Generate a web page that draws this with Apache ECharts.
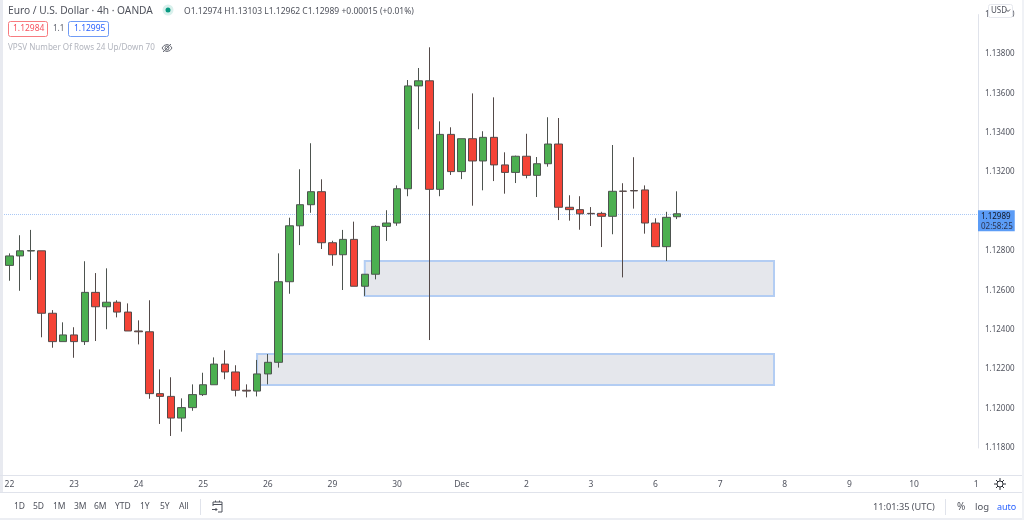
<!DOCTYPE html>
<html>
<head>
<meta charset="utf-8">
<title>Euro / U.S. Dollar 4h</title>
<style>
  html, body { margin: 0; padding: 0; background: #fff; }
  #main { width: 1024px; height: 520px; }
</style>
</head>
<body>
<div id="main"></div>
<script src="https://cdn.jsdelivr.net/npm/echarts@6/dist/echarts.min.js"></script>
<script>
var dayLabels = ["22", "23", "24", "25", "26", "29", "30", "Dec", "2", "3", "6", "7", "8", "9", "10", "11"];

var opens = [
  1.12727, 1.12775, 1.12800, 1.12801, 1.12484, 1.12340, 1.12374, 1.12340, 1.12590, 1.12517,
  1.12540, 1.12490, 1.12394, 1.12390, 1.12076, 1.12062, 1.11952, 1.12005, 1.12071, 1.12121,
  1.12226, 1.12186, 1.12093, 1.12089, 1.12176, 1.12235, 1.12644, 1.12928, 1.13035, 1.13101,
  1.12842, 1.12781, 1.12859, 1.12621, 1.12682, 1.12925, 1.12942, 1.13116, 1.13638, 1.13664,
  1.13113, 1.13392, 1.13203, 1.13370, 1.13257, 1.13377, 1.13237, 1.13199, 1.13281, 1.13184,
  1.13243, 1.13343, 1.13022, 1.13010, 1.12991, 1.12991, 1.12976, 1.13104, 1.13107, 1.13110,
  1.12942, 1.12822, 1.12974
];
var closes = [
  1.12775, 1.12801, 1.12802, 1.12484, 1.12340, 1.12374, 1.12340, 1.12590, 1.12517, 1.12540,
  1.12490, 1.12394, 1.12390, 1.12076, 1.12062, 1.11952, 1.12005, 1.12071, 1.12121, 1.12226,
  1.12186, 1.12093, 1.12089, 1.12176, 1.12235, 1.12644, 1.12928, 1.13035, 1.13101, 1.12842,
  1.12781, 1.12859, 1.12621, 1.12682, 1.12925, 1.12942, 1.13116, 1.13638, 1.13664, 1.13113,
  1.13392, 1.13203, 1.13370, 1.13257, 1.13377, 1.13237, 1.13199, 1.13281, 1.13184, 1.13243,
  1.13343, 1.13022, 1.13010, 1.12989, 1.12989, 1.12976, 1.13103, 1.13103, 1.13105, 1.12942,
  1.12822, 1.12971, 1.12989
];
var lows = [
  1.12649, 1.12598, 1.12653, 1.12362, 1.12309, 1.12340, 1.12258, 1.12323, 1.12343, 1.12403,
  1.12463, 1.12394, 1.12326, 1.12050, 1.11922, 1.11861, 1.11883, 1.11989, 1.12064, 1.12121,
  1.12149, 1.12062, 1.12057, 1.12062, 1.12123, 1.12208, 1.12583, 1.12830, 1.12994, 1.12810,
  1.12725, 1.12602, 1.12621, 1.12572, 1.12656, 1.12851, 1.12928, 1.13078, 1.13418, 1.12348,
  1.13078, 1.13186, 1.13165, 1.13030, 1.13108, 1.13155, 1.13091, 1.13145, 1.13169, 1.13074,
  1.13228, 1.12957, 1.12954, 1.12908, 1.12927, 1.12820, 1.12885, 1.12666, 1.13015, 1.12888,
  1.12822, 1.12749, 1.12962
];
var highs = [
  1.12788, 1.12880, 1.12907, 1.12801, 1.12500, 1.12438, 1.12413, 1.12748, 1.12688, 1.12712,
  1.12550, 1.12534, 1.12448, 1.12550, 1.12199, 1.12159, 1.12052, 1.12123, 1.12182, 1.12260,
  1.12296, 1.12220, 1.12123, 1.12247, 1.12277, 1.12788, 1.12969, 1.13215, 1.13347, 1.13164,
  1.12852, 1.12907, 1.12949, 1.12682, 1.12930, 1.13007, 1.13133, 1.13668, 1.13729, 1.13834,
  1.13458, 1.13428, 1.13370, 1.13600, 1.13408, 1.13580, 1.13301, 1.13284, 1.13395, 1.13277,
  1.13479, 1.13475, 1.13083, 1.13078, 1.13023, 1.12999, 1.13338, 1.13144, 1.13276, 1.13133,
  1.12966, 1.12999, 1.13103
];

// supply/demand boxes: [from candle, to candle, top price, bottom price]
var zoneA = [33, 71, 1.12749, 1.12572];
var zoneB = [23, 71, 1.12277, 1.12120];

var lastPrice = 1.12989;
var countdown = "02:58:25";
var rangeButtons = ["1D", "5D", "1M", "3M", "6M", "YTD", "1Y", "5Y", "All"];

// six 4h candles per day, label on the first one
var categories = [];
dayLabels.forEach(function (d) {
  categories.push(d, "", "", "", "", "");
});
categories = categories.slice(0, 91);

var candles = opens.map(function (o, i) {
  return [o, closes[i], lows[i], highs[i]];
});

var FONT = '"Noto Sans", sans-serif';
var LINE = "#e0e3eb";

function txt(x, y, text, size, fill) {
  return {
    type: "text", z: 110, silent: true,
    style: { x: x, y: y, text: text, fontSize: size, fontFamily: FONT, fill: fill, verticalAlign: "middle" }
  };
}
function box(x, y, w, h, fill, stroke, r) {
  return {
    type: "rect", z: 100, silent: true,
    shape: { x: x, y: y, width: w, height: h, r: r || 0 },
    style: { fill: fill, stroke: stroke || null, lineWidth: 1 }
  };
}
function seg(x1, y1, x2, y2, color) {
  return {
    type: "line", z: 105, silent: true,
    shape: { x1: x1, y1: y1, x2: x2, y2: y2 },
    style: { stroke: color || LINE, lineWidth: 1 }
  };
}
function poly(points, color) {
  return { type: "polyline", z: 110, silent: true, shape: { points: points }, style: { fill: null, stroke: color, lineWidth: 1 } };
}
function dot(cx, cy, r, fill, stroke) {
  return { type: "circle", z: 110, silent: true, shape: { cx: cx, cy: cy, r: r }, style: { fill: fill, stroke: stroke || null, lineWidth: 1 } };
}

var rangeX = [14, 33, 53, 74, 94, 115, 140, 160, 179];
var chrome = [
  box(0, 0, 3, 520, "#e8eaf0"),
  box(979, 476, 45, 16, "#fff"),
  box(0, 493, 1024, 25, "#fff"),
  box(0, 518, 1024, 2, "#eceef3"),
  box(1022, 0, 2, 520, "#f0f2f6"),
  seg(0, 475.5, 1022, 475.5),
  seg(0, 492.5, 1022, 492.5),
  seg(200.5, 499, 200.5, 515),
  seg(945.5, 499, 945.5, 515),

  txt(8, 11, "Euro / U.S. Dollar · 4h · OANDA", 10.2, "#4f525c"),
  dot(168, 10, 5.5, "#d9f0ec"),
  dot(168, 10, 2.5, "#089981"),
  txt(184, 11.5, "O1.12974 H1.13103 L1.12962 C1.12989 +0.00015 (+0.01%)", 8.5, "#4f525c"),

  box(8.5, 21.5, 39, 15, "#fff", "#f77c80", 2),
  txt(13, 29, "1.12984", 8.5, "#f7525f"),
  txt(53, 29, "1.1", 8, "#5d606b"),
  box(68.5, 21.5, 40, 15, "#fff", "#6f9bf5", 2),
  txt(74, 29, "1.12995", 8.5, "#2962ff"),
  txt(8, 48, "VPSV Number Of Rows 24 Up/Down 70", 8.1, "#b2b5be"),
  // hidden-indicator eye
  poly([[162, 48], [164, 45.5], [167, 44.5], [170, 45.5], [172, 48], [170, 50.5], [167, 51.5], [164, 50.5], [162, 48]], "#6b6e78"),
  dot(167, 48, 2, null, "#6b6e78"),
  seg(163, 52, 171, 44, "#6b6e78"),

  box(988.5, 4.5, 24, 13, "#fff", "#e6e8ee", 2),
  txt(991, 10.5, "USD", 8, "#4f525c"),
  poly([[1006, 9.5], [1008, 11.5], [1010, 9.5]], "#4f525c"),

  // settings gear
  dot(1000, 484, 3, null, "#2f323a"),
  seg(1000, 478, 1000, 481, "#2f323a"),
  seg(1000, 487, 1000, 490, "#2f323a"),
  seg(994, 484, 997, 484, "#2f323a"),
  seg(1003, 484, 1006, 484, "#2f323a"),
  seg(996, 480, 998, 482, "#2f323a"),
  seg(1002, 486, 1004, 488, "#2f323a"),
  seg(996, 488, 998, 486, "#2f323a"),
  seg(1002, 482, 1004, 480, "#2f323a"),

  // go-to-date calendar
  poly([[213, 506], [213, 502], [222, 502], [222, 512], [218, 512]], "#4f525c"),
  seg(213, 504.5, 222, 504.5, "#4f525c"),
  seg(215.5, 500.5, 215.5, 502, "#4f525c"),
  seg(219.5, 500.5, 219.5, 502, "#4f525c"),
  seg(212, 509.5, 217, 509.5, "#4f525c"),
  poly([[215.5, 508], [217, 509.5], [215.5, 511]], "#4f525c"),

  txt(873, 507, "11:01:35 (UTC)", 9.2, "#4f525c"),
  txt(957, 507, "%", 10, "#4f525c"),
  txt(975, 507, "log", 9.5, "#4f525c"),
  txt(997, 507, "auto", 9, "#2962ff")
];
rangeButtons.forEach(function (b, i) {
  chrome.push(txt(rangeX[i], 507, b, 8.5, "#4f525c"));
});

var option = {
  animation: false,
  backgroundColor: "#fff",
  grid: { left: 4, width: 980, top: 14.6, height: 433.4 },
  xAxis: {
    type: "category",
    data: categories,
    offset: 27,
    boundaryGap: true,
    axisLine: { show: false },
    axisTick: { show: false },
    splitLine: { show: false },
    axisLabel: { interval: 5, color: "#50535e", fontSize: 8.5, fontFamily: FONT, margin: 5 }
  },
  yAxis: {
    type: "value",
    position: "right",
    offset: -6,
    min: 1.118,
    max: 1.14,
    interval: 0.002,
    splitLine: { show: false },
    axisTick: { show: false },
    axisLine: { show: true, lineStyle: { color: LINE } },
    axisLabel: {
      color: "#50535e",
      fontSize: 8,
      fontFamily: FONT,
      margin: 7,
      formatter: function (v) {
        // 1.13000 sits under the last price tag
        return Math.abs(v - 1.13) < 1e-6 ? "" : v.toFixed(5);
      }
    }
  },
  series: [
    {
      type: "candlestick",
      data: candles,
      barWidth: 8,
      clip: false,
      itemStyle: {
        color: "#4caf50",
        color0: "#f44336",
        borderColor: "#4d544f",
        borderColor0: "#544a49",
        borderWidth: 1
      },
      markArea: {
        silent: true,
        itemStyle: { color: "#e5e7ec", borderColor: "#b3cdf3", borderWidth: 2 },
        data: [
          [{ coord: [zoneA[0], zoneA[2]] }, { coord: [zoneA[1], zoneA[3]] }],
          [{ coord: [zoneB[0], zoneB[2]] }, { coord: [zoneB[1], zoneB[3]] }]
        ]
      },
      markLine: {
        silent: true,
        symbol: "none",
        precision: 5,
        z: 1,
        lineStyle: { type: "dotted", color: "#a9c8f5", width: 1 },
        label: {
          position: "end",
          distance: -6,
          offset: [0, 7],
          padding: [1, 2, 0, 3],
          backgroundColor: "#5b9cf6",
          formatter: function () {
            return "{a|" + lastPrice.toFixed(5) + "}\n{b|" + countdown + "}";
          },
          rich: {
            a: { color: "#131722", fontSize: 8, fontFamily: FONT, lineHeight: 10 },
            b: { color: "#2b3350", fontSize: 8, fontFamily: FONT, lineHeight: 10 }
          }
        },
        data: [{ yAxis: lastPrice }]
      }
    }
  ],
  graphic: chrome
};

var myChart = echarts.init(document.getElementById("main"));
myChart.setOption(option);
</script>
</body>
</html>
